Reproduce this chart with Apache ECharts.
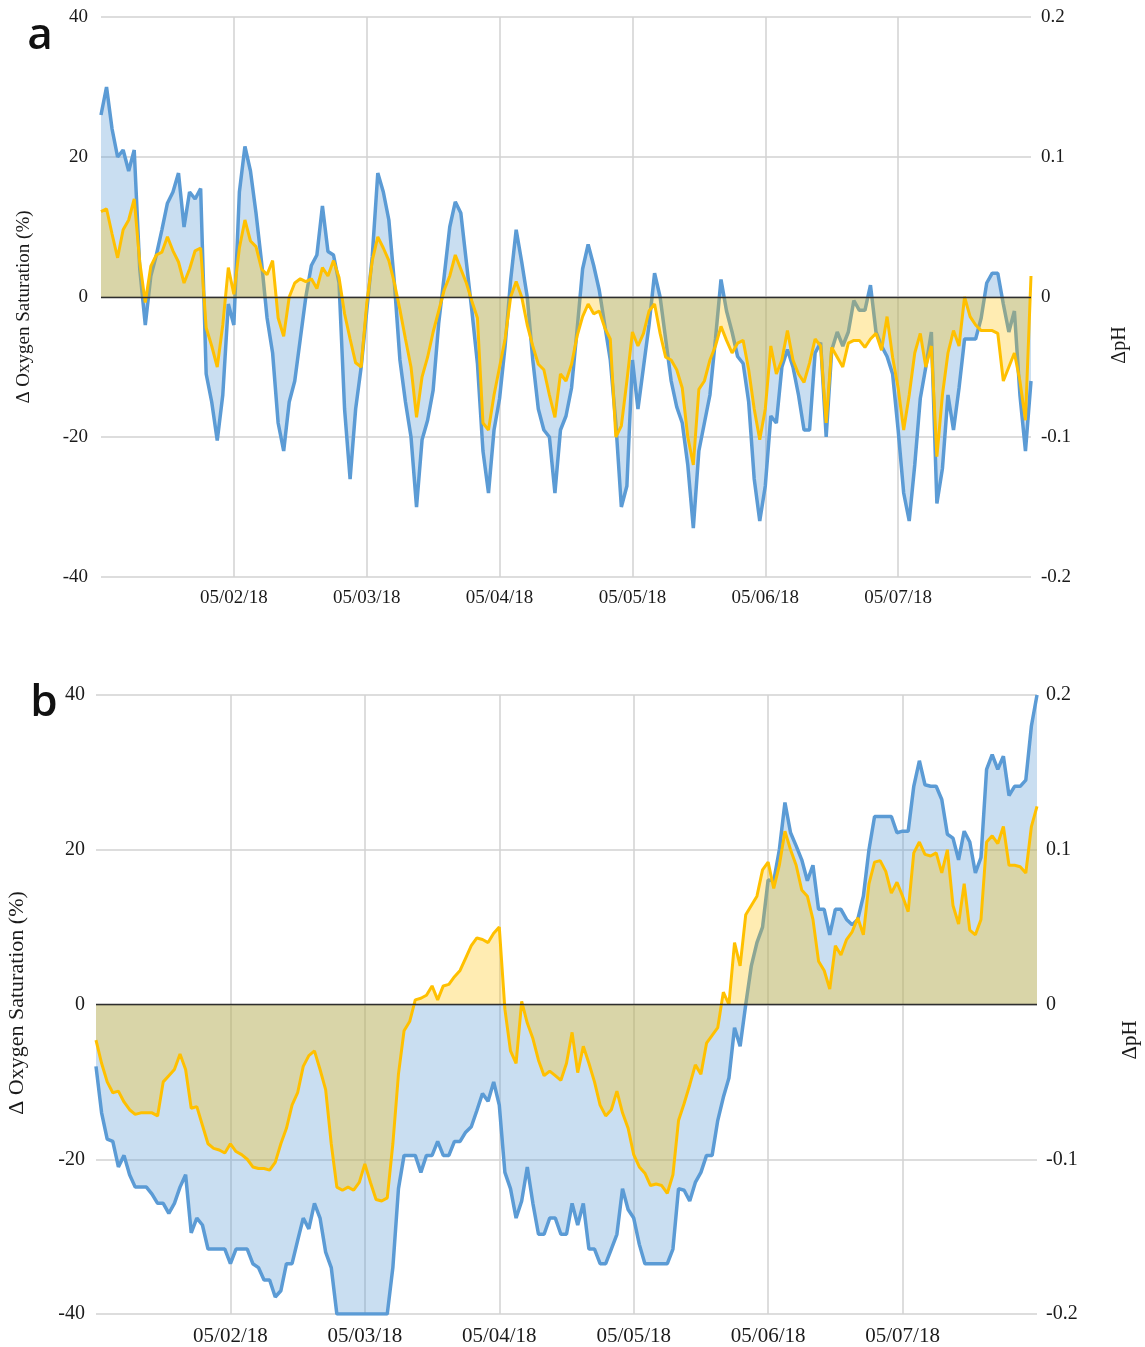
<!DOCTYPE html>
<html>
<head>
<meta charset="utf-8">
<title>ΔOxygen saturation and ΔpH</title>
<script src="https://cdn.jsdelivr.net/npm/echarts@6/dist/echarts.min.js"></script>
<style>
  html, body { margin: 0; padding: 0; background: #ffffff; }
  #chart { width: 1145px; height: 1347px; }
</style>
</head>
<body>
<div id="chart"></div>
<script>
// Hourly readings from 05/01/18 00:00 (hour 0) to 05/08/18 00:00 (hour 168)
const hours = Array.from({ length: 169 }, (_, i) => i);

// Day tick labels, one per 24 h tick (first and last left blank)
const dayLabels = ['', '05/02/18', '05/03/18', '05/04/18', '05/05/18', '05/06/18', '05/07/18', ''];

// Panel a: change in oxygen saturation (%)
const aO2 = [
  26, 30, 24, 20, 21, 18, 21, 4, -4, 3, 6, 9.6, 13.4, 15, 17.7, 10, 15, 14, 15.5, -11,
  -15, -20.5, -14, -1, -4, 15, 21.5, 18, 12, 5, -3, -8, -18, -22, -15, -12, -6, 0, 4.5, 6,
  13, 6.5, 6, 2, -16, -26, -16, -10, -2, 5.8, 17.7, 15, 11, 2, -9, -15, -20, -30, -20.4, -17.6,
  -13.3, -3.8, 3, 10, 13.6, 12, 5, -2, -9.5, -22, -28, -19, -14.5, -7, 2.4, 9.6, 5, 0, -9, -16,
  -19, -20, -28, -19, -17, -13, -4.7, 4, 7.5, 4.5, 1, -4, -9, -18, -30, -27, -9, -16, -10, -4,
  3.4, 0, -6, -12, -15.7, -18, -24, -33, -22, -18, -14, -6, 2.5, -2, -5, -8.5, -9.5, -15, -26, -32,
  -27, -17, -18, -10, -7.5, -10, -14, -19, -19, -8, -6.5, -20, -7.6, -5, -7, -5, -0.5, -1.9, -1.9, 1.7,
  -5, -7, -8.5, -11, -19, -28, -32, -24, -14.5, -10, -5, -29.5, -24.5, -14, -19, -13, -6, -6, -6, -3,
  2, 3.4, 3.4, -1, -5, -2, -14, -22, -12
];

// Panel a: change in pH
const aPH = [
  0.061, 0.063, 0.045, 0.028, 0.048, 0.055, 0.070, 0.025, -0.004, 0.022, 0.030, 0.032, 0.043, 0.033, 0.025, 0.010, 0.020, 0.033, 0.035, -0.022,
  -0.035, -0.050, -0.020, 0.021, 0.002, 0.035, 0.055, 0.040, 0.036, 0.020, 0.016, 0.026, -0.015, -0.028, 0.000, 0.010, 0.013, 0.011, 0.013, 0.006,
  0.021, 0.015, 0.026, 0.014, -0.012, -0.030, -0.047, -0.050, -0.005, 0.026, 0.043, 0.035, 0.026, 0.010, -0.009, -0.030, -0.050, -0.086, -0.057, -0.043,
  -0.025, -0.010, 0.005, 0.015, 0.030, 0.020, 0.010, -0.003, -0.015, -0.090, -0.095, -0.070, -0.050, -0.030, 0.000, 0.011, 0.000, -0.020, -0.035, -0.048,
  -0.052, -0.070, -0.086, -0.055, -0.060, -0.048, -0.028, -0.014, -0.005, -0.012, -0.010, -0.022, -0.030, -0.100, -0.092, -0.060, -0.025, -0.035, -0.026, -0.010,
  -0.005, -0.026, -0.043, -0.045, -0.052, -0.065, -0.100, -0.120, -0.066, -0.060, -0.045, -0.035, -0.021, -0.031, -0.040, -0.033, -0.031, -0.052, -0.080, -0.102,
  -0.080, -0.035, -0.055, -0.045, -0.024, -0.045, -0.055, -0.061, -0.047, -0.030, -0.035, -0.090, -0.036, -0.043, -0.050, -0.033, -0.031, -0.031, -0.036, -0.030,
  -0.026, -0.038, -0.014, -0.043, -0.065, -0.095, -0.070, -0.040, -0.026, -0.050, -0.035, -0.114, -0.070, -0.040, -0.024, -0.035, 0.000, -0.014, -0.020, -0.024,
  -0.024, -0.024, -0.026, -0.060, -0.050, -0.040, -0.060, -0.088, 0.015
];

// Panel b: change in oxygen saturation (%)
const bO2 = [
  -8, -14, -17.4, -17.7, -21, -19.5, -22, -23.6, -23.6, -23.6, -24.5, -25.7, -25.7, -27, -25.7, -23.6, -22, -29.5, -27.6, -28.5,
  -31.6, -31.6, -31.6, -31.6, -33.5, -31.6, -31.6, -31.6, -33.5, -34, -35.6, -35.6, -37.8, -37, -33.5, -33.5, -30.5, -27.6, -29, -25.7,
  -27.6, -32, -34, -40, -40, -40, -40, -40, -40, -40, -40, -40, -40, -34, -23.8, -19.5, -19.5, -19.5, -21.7, -19.5,
  -19.5, -17.7, -19.5, -19.5, -17.7, -17.7, -16.5, -15.8, -13.7, -11.5, -12.5, -10, -13, -21.7, -23.8, -27.6, -25.4, -21, -25.7, -29.7,
  -29.7, -27.6, -27.6, -29.7, -29.7, -25.7, -28.5, -25.7, -31.6, -31.6, -33.5, -33.5, -31.6, -29.7, -23.8, -26.5, -27.6, -31, -33.5, -33.5,
  -33.5, -33.5, -33.5, -31.6, -23.8, -24, -25.4, -23, -21.7, -19.5, -19.5, -15, -12, -9.5, -3, -5.4, 0, 5, 8, 10,
  16.1, 16, 20, 26.1, 22.2, 20.5, 18.7, 16, 18, 12.3, 12.3, 9, 12.3, 12.3, 11, 10.3, 11, 14, 20, 24.3,
  24.3, 24.3, 24.3, 22.2, 22.4, 22.4, 28.2, 31.5, 28.4, 28.2, 28.2, 26.5, 22, 21.5, 18.7, 22.4, 21, 17, 19, 30.4,
  32.3, 30.4, 32.1, 27, 28.2, 28.2, 29, 36, 40
];

// Panel b: change in pH
const bPH = [
  -0.023, -0.038, -0.050, -0.057, -0.056, -0.063, -0.068, -0.071, -0.070, -0.070, -0.070, -0.072, -0.050, -0.046, -0.042, -0.032, -0.042, -0.067, -0.066, -0.078,
  -0.090, -0.093, -0.094, -0.096, -0.090, -0.095, -0.097, -0.100, -0.105, -0.106, -0.106, -0.107, -0.102, -0.090, -0.080, -0.065, -0.057, -0.040, -0.033, -0.030,
  -0.042, -0.055, -0.090, -0.118, -0.120, -0.118, -0.120, -0.115, -0.103, -0.115, -0.126, -0.127, -0.125, -0.090, -0.045, -0.017, -0.011, 0.003, 0.004, 0.006,
  0.012, 0.003, 0.012, 0.013, 0.018, 0.022, 0.030, 0.038, 0.043, 0.042, 0.040, 0.046, 0.050, -0.003, -0.030, -0.038, 0.002, -0.012, -0.022, -0.036,
  -0.046, -0.043, -0.046, -0.049, -0.038, -0.018, -0.044, -0.027, -0.038, -0.050, -0.065, -0.072, -0.068, -0.056, -0.070, -0.080, -0.097, -0.105, -0.109, -0.117,
  -0.116, -0.117, -0.122, -0.110, -0.075, -0.064, -0.052, -0.039, -0.045, -0.025, -0.020, -0.015, 0.008, 0.000, 0.040, 0.025, 0.058, 0.064, 0.070, 0.087,
  0.092, 0.075, 0.090, 0.112, 0.100, 0.090, 0.074, 0.070, 0.055, 0.028, 0.022, 0.010, 0.038, 0.032, 0.042, 0.047, 0.056, 0.045, 0.078, 0.092,
  0.093, 0.086, 0.072, 0.079, 0.070, 0.060, 0.098, 0.105, 0.097, 0.096, 0.098, 0.085, 0.100, 0.064, 0.052, 0.078, 0.048, 0.045, 0.055, 0.105,
  0.109, 0.104, 0.115, 0.090, 0.090, 0.089, 0.085, 0.115, 0.128
];

const SERIF = '"Liberation Serif", "Times New Roman", serif';
const BLUE = '#5B9BD5';
const GOLD = '#FFC000';
const BLUE_FILL = 'rgba(91,155,213,0.33)';
const GOLD_FILL = 'rgba(255,192,0,0.30)';
const GRID_GREY = '#d2d2d2';

const pairs = (vals) => vals.map((v, i) => [hours[i], v]);

function xAxisFor(gridIndex, fontSize) {
  return {
    type: 'value', gridIndex, min: 0, max: 168, interval: 24,
    axisLine: { show: false }, axisTick: { show: false },
    axisLabel: {
      margin: 12, fontFamily: SERIF, fontSize, color: '#1a1a1a',
      formatter: (v) => dayLabels[Math.round(v / 24)] || ''
    },
    splitLine: { show: true, showMinLine: false, showMaxLine: false, lineStyle: { color: GRID_GREY, width: 1.5 } }
  };
}

function o2Axis(gridIndex, fontSize, margin) {
  return {
    type: 'value', gridIndex, position: 'left', min: -40, max: 40, interval: 20,
    axisLine: { show: false }, axisTick: { show: false },
    axisLabel: { margin, fontFamily: SERIF, fontSize, color: '#1a1a1a' },
    splitLine: { show: true, lineStyle: { color: GRID_GREY, width: 1.5 } }
  };
}

function phAxis(gridIndex, fontSize, margin) {
  return {
    type: 'value', gridIndex, position: 'right', min: -0.2, max: 0.2, interval: 0.1,
    axisLine: { show: false }, axisTick: { show: false },
    axisLabel: {
      margin, fontFamily: SERIF, fontSize, color: '#1a1a1a',
      formatter: (v) => (Math.abs(v) < 1e-9 ? '0' : v.toFixed(1))
    },
    splitLine: { show: false }
  };
}

function o2Series(xi, yi, vals) {
  return {
    type: 'line', xAxisIndex: xi, yAxisIndex: yi, data: pairs(vals),
    symbol: 'none', z: 2,
    lineStyle: { color: BLUE, width: 3.5 }, itemStyle: { color: BLUE },
    areaStyle: { color: BLUE_FILL, opacity: 1 },
    markLine: {
      silent: true, symbol: 'none', label: { show: false },
      lineStyle: { color: '#2e2e2e', width: 1.3, type: 'solid' },
      data: [{ yAxis: 0 }]
    }
  };
}

function phSeries(xi, yi, vals) {
  return {
    type: 'line', xAxisIndex: xi, yAxisIndex: yi, data: pairs(vals),
    symbol: 'none', z: 3,
    lineStyle: { color: GOLD, width: 3 }, itemStyle: { color: GOLD },
    areaStyle: { color: GOLD_FILL, opacity: 1 }
  };
}

function sideTitle(text, x, y, size) {
  return {
    type: 'text', x, y, rotation: Math.PI / 2,
    style: { text, x: 0, y: 0, align: 'center', verticalAlign: 'middle', font: size + 'px ' + SERIF, fill: '#1a1a1a' }
  };
}

function panelLetter(text, x, y) {
  return {
    type: 'text', x, y,
    style: { text, align: 'center', verticalAlign: 'middle', font: '600 44px "Open Sans", "Noto Sans", sans-serif', fill: '#111111' }
  };
}

const chart = echarts.init(document.getElementById('chart'), null, { renderer: 'canvas' });
chart.setOption({
  animation: false,
  backgroundColor: '#ffffff',
  grid: [
    { left: 101, top: 17, width: 930, height: 560 },
    { left: 96, top: 695, width: 941, height: 619 }
  ],
  xAxis: [xAxisFor(0, 19), xAxisFor(1, 21)],
  yAxis: [o2Axis(0, 19, 13), phAxis(0, 19, 10), o2Axis(1, 20, 11), phAxis(1, 20, 9)],
  series: [
    o2Series(0, 0, aO2), phSeries(0, 1, aPH),
    o2Series(1, 2, bO2), phSeries(1, 3, bPH)
  ],
  graphic: [
    panelLetter('a', 40, 36),
    panelLetter('b', 44, 703),
    sideTitle('Δ Oxygen Saturation (%)', 24, 307, 19),
    sideTitle('ΔpH', 1120, 345, 20),
    sideTitle('Δ Oxygen Saturation (%)', 17, 1003, 22),
    sideTitle('ΔpH', 1130, 1040, 21)
  ]
});
</script>
</body>
</html>
